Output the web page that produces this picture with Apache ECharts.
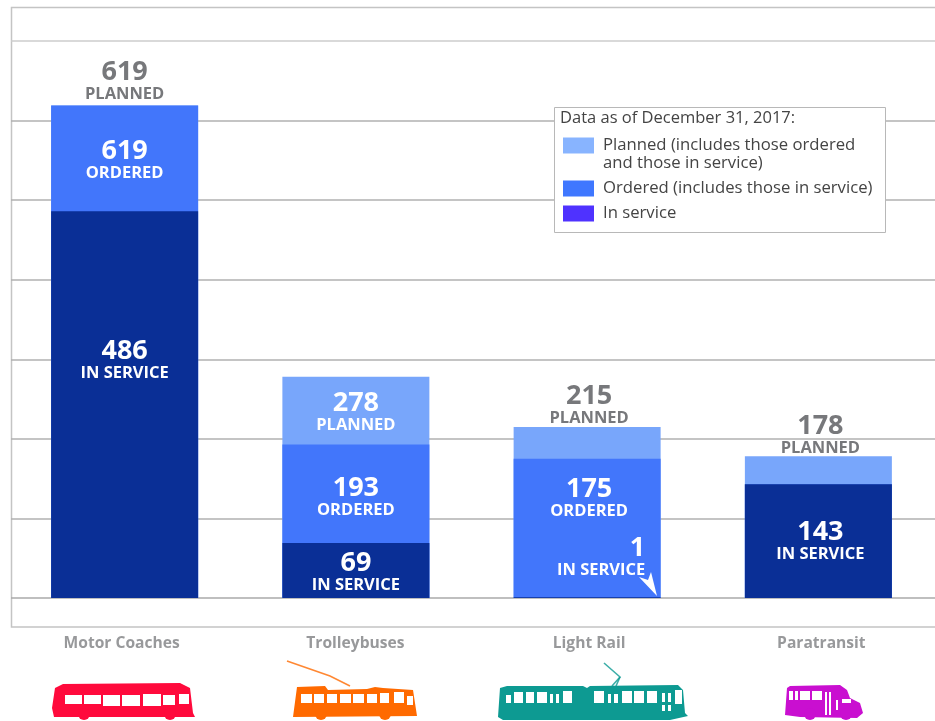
<!DOCTYPE html>
<html>
<head>
<meta charset="utf-8">
<style>
  html, body { margin: 0; padding: 0; background: #fff; }
  #chart { width: 935px; height: 721px; }
</style>
<script src="https://cdn.jsdelivr.net/npm/echarts@6/dist/echarts.min.js"></script>
</head>
<body>
<div id="chart"></div>
<script>
const categories = ["Motor Coaches", "Trolleybuses", "Light Rail", "Paratransit"];
const planned = [619, 278, 215, 178];
const ordered = [619, 193, 175, 143];
const inService = [486, 69, 1, 143];
const yTicks = [0, 100, 200, 300, 400, 500, 600, 700];

const legendTitle = "Data as of December 31, 2017:";
const legendText = {
  Planned: "Planned (includes those ordered",
  Ordered: "Ordered (includes those in service)",
  "In service": "In service",
};

const FONT = "Open Sans";
const GREY = "#77787b";
const WHITE = "#fff";

// number + caption label on one bar segment
function tag(num, caption, color, position, distance, dx) {
  return {
    show: true,
    position: position,
    distance: distance,
    offset: [dx || 0, 0],
    formatter: "{n|" + num + "}\n{c|" + caption + "}",
    rich: {
      n: { fontFamily: FONT, fontWeight: 700, fontSize: 27, lineHeight: 28, color: color },
      c: { fontFamily: FONT, fontWeight: 700, fontSize: 16.5, lineHeight: 16, color: color },
    },
  };
}

const plannedTags = [
  tag(planned[0], "PLANNED", GREY, "top", 3),
  tag(planned[1], "PLANNED", WHITE, "insideTop", 13),
  tag(planned[2], "PLANNED", GREY, "top", 1, 2),
  tag(planned[3], "PLANNED", GREY, "top", 0, 2),
];
const orderedTags = [
  tag(ordered[0], "ORDERED", WHITE, "insideTop", 32),
  tag(ordered[1], "ORDERED", WHITE, "insideTop", 30),
  tag(ordered[2], "ORDERED", WHITE, "insideTop", 17, 2),
  { show: false },
];
const serviceTags = [
  tag(inService[0], "IN SERVICE", WHITE, "insideTop", 126),
  tag(inService[1], "IN SERVICE", WHITE, "insideTop", 6),
  {
    show: true,
    position: "top",
    distance: 19,
    offset: [14, 0],
    formatter: "{n|" + inService[2] + "}\n{c|IN SERVICE}",
    rich: {
      n: { fontFamily: FONT, fontWeight: 700, fontSize: 27, lineHeight: 28, color: WHITE, align: "right" },
      c: { fontFamily: FONT, fontWeight: 700, fontSize: 16.5, lineHeight: 16, color: WHITE },
    },
  },
  tag(inService[3], "IN SERVICE", WHITE, "insideTop", 34, 2),
];

function barSeries(name, values, tags, color) {
  return {
    name: name,
    type: "bar",
    xAxisIndex: 1,
    yAxisIndex: 1,
    barWidth: 147,
    barGap: "-100%",
    itemStyle: { color: color },
    data: values.map((v, i) => ({ value: v, label: tags[i] })),
  };
}

function vehicle(color, body, wheels, windows, extra) {
  const parts = [];
  (extra || []).forEach((points) => {
    parts.push({ type: "polyline", shape: { points: points }, style: { stroke: color, fill: null, lineWidth: 1.6, opacity: 0.8 } });
  });
  parts.push({ type: "polygon", shape: { points: body }, style: { fill: color } });
  wheels.forEach((w) => {
    parts.push({ type: "circle", shape: { cx: w[0], cy: w[1], r: 6 }, style: { fill: color } });
  });
  windows.forEach((w) => {
    parts.push({ type: "rect", shape: { x: w[0], y: w[1], width: w[2] - w[0], height: w[3] - w[1] }, style: { fill: "#fff" } });
  });
  return parts;
}

const motorIcon = vehicle(
  "#ff0a3c",
  [[52, 708], [55, 688], [63, 684], [180, 683], [190, 688], [193, 713], [195, 717], [54, 717]],
  [[84, 714], [170, 714]],
  [[65, 695, 82, 704], [84, 695, 101, 704], [103, 695, 120, 706], [122, 695, 140, 706], [143, 694, 161, 706], [163, 695, 175, 705], [179, 694, 189, 704]]
);
const trolleyIcon = vehicle(
  "#ff6a00",
  [[293, 717], [297, 687], [325, 686], [328, 690], [367, 689], [375, 687], [383, 688], [413, 690], [417, 716]],
  [[321, 714], [385, 714]],
  [[301, 694, 312, 703], [314, 694, 324, 703], [327, 694, 337, 703], [340, 694, 351, 703], [353, 694, 364, 703], [367, 694, 377, 703], [380, 693, 389, 703], [394, 692, 404, 703], [407, 696, 413, 705]],
  [[[287, 661], [330, 676], [350, 686]]]
);
const railIcon = vehicle(
  "#0d9a92",
  [[498, 717], [500, 688], [507, 686], [583, 686], [587, 688], [590, 686], [678, 685], [683, 690], [685, 713], [688, 716], [670, 720], [503, 720]],
  [],
  [[506, 695, 511, 703], [514, 692, 523, 703], [526, 692, 534, 703], [537, 692, 547, 703], [550, 694, 553, 703], [556, 694, 559, 703], [563, 691, 572, 703], [594, 691, 604, 703], [608, 694, 611, 703], [614, 694, 618, 703], [622, 691, 632, 703], [634, 691, 644, 703], [647, 691, 657, 703], [662, 693, 665, 702], [668, 693, 671, 702], [662, 705, 665, 711], [668, 705, 671, 711], [675, 690, 682, 704]],
  [[[604, 663], [620, 677], [612, 686]], [[620, 677], [616, 686]]]
);
const paraIcon = vehicle(
  "#c90fd0",
  [[785, 715], [787, 688], [790, 686], [840, 685], [847, 690], [850, 698], [860, 703], [863, 713], [857, 718], [800, 717]],
  [[810, 714], [846, 714]],
  [[789, 691, 793, 700], [795, 691, 798, 700], [800, 691, 810, 700], [812, 691, 822, 700], [825, 692, 827, 715], [829, 692, 831, 715], [836, 700, 838, 710], [842, 699, 851, 703]]
);

const myChart = echarts.init(document.getElementById("chart"));
const option = {
  animation: false,
  backgroundColor: "#fff",
  textStyle: { fontFamily: FONT },
  title: {
    text: legendTitle,
    left: 560,
    top: 110,
    padding: 0,
    z: 12,
    textStyle: { fontFamily: FONT, fontWeight: 400, fontSize: 16.5, color: "#444" },
  },
  grid: [
    { left: 11, right: 0, top: 41, bottom: 123 },
    { left: 9, right: 1, top: 41, bottom: 123 },
  ],
  xAxis: [
    { type: "category", gridIndex: 0, show: false, data: categories },
    {
      type: "category",
      gridIndex: 1,
      data: [
        { value: categories[0], textStyle: { padding: [0, 6, 0, 0] } },
        { value: categories[1], textStyle: { padding: [0, 1, 0, 0] } },
        { value: categories[2], textStyle: { padding: [0, 0, 0, 4] } },
        { value: categories[3], textStyle: { padding: [0, 0, 0, 6] } },
      ],
      axisLine: { show: false },
      axisTick: { show: false },
      axisLabel: { margin: 38, fontFamily: FONT, fontWeight: 700, fontSize: 15.6, color: "#98999b" },
    },
  ],
  yAxis: [
    {
      type: "value",
      gridIndex: 0,
      min: yTicks[0],
      max: yTicks[yTicks.length - 1],
      interval: yTicks[1] - yTicks[0],
      axisLine: { show: false },
      axisTick: { show: false },
      axisLabel: { show: false },
      splitLine: {
        show: true,
        lineStyle: { width: 1.5, color: ["#aaaaaa", "#b0b0b0", "#b0b0b0", "#b0b0b0", "#b0b0b0", "#b0b0b0", "#b0b0b0", "#cccccc"] },
      },
    },
    { type: "value", gridIndex: 1, show: false, min: yTicks[0], max: yTicks[yTicks.length - 1] },
  ],
  legend: [
    { data: [{ name: "Planned", itemStyle: { color: "#88b4ff" } }], top: 137 },
    { data: [{ name: "Ordered", itemStyle: { color: "#3f77ff" } }], top: 180 },
    { data: [{ name: "In service", itemStyle: { color: "#4f32ff" } }], top: 205 },
  ].map((l) => ({
    data: l.data,
    top: l.top,
    left: 563,
    padding: 0,
    z: 12,
    selectedMode: false,
    itemWidth: 31,
    itemHeight: 16,
    icon: "rect",
    formatter: (name) => legendText[name],
    textStyle: { fontFamily: FONT, fontSize: 16.7, color: "#444", padding: [0, 0, 0, 4] },
  })),
  graphic: [
    {
      type: "rect",
      z: 0,
      silent: true,
      shape: { x: 11.5, y: 7.5, width: 930, height: 619.5 },
      style: { fill: null, stroke: "#c4c4c4", lineWidth: 1.5 },
    },
    {
      type: "rect",
      z: 10,
      silent: true,
      shape: { x: 554.5, y: 107.5, width: 331, height: 125 },
      style: { fill: "#fff", stroke: "#b8b8b8", lineWidth: 1 },
    },
    {
      type: "text",
      z: 12,
      silent: true,
      x: 603,
      y: 155,
      style: { text: "and those in service)", fontFamily: FONT, fontSize: 16.7, fill: "#444" },
    },
    {
      // arrow pointing at the 1 vehicle in service
      type: "polygon",
      z: 12,
      silent: true,
      shape: { points: [[657, 596], [639, 577], [648, 580], [651, 572]] },
      style: { fill: "#fff" },
    },
    ...motorIcon, ...trolleyIcon, ...railIcon, ...paraIcon,
  ],
  series: [
    barSeries("Planned", planned, plannedTags, "#78a6fb"),
    barSeries("Ordered", ordered, orderedTags, "#4276fb"),
    barSeries("In service", inService, serviceTags, "#0a2f96"),
  ],
};
myChart.setOption(option);
</script>
</body>
</html>
